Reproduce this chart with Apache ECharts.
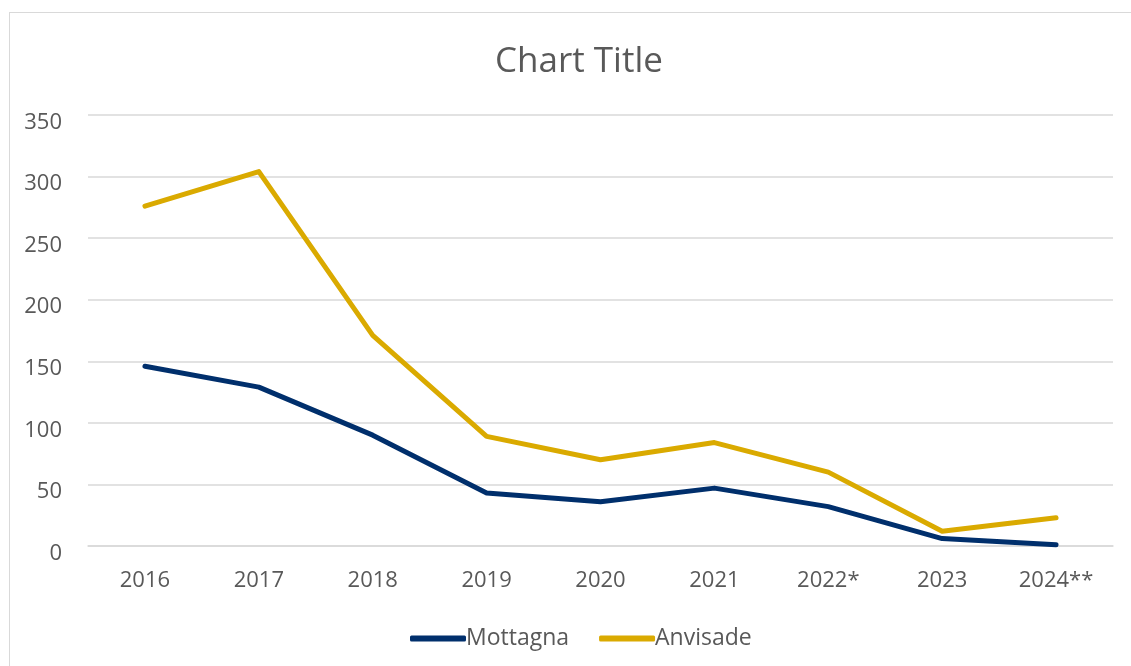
<!DOCTYPE html>
<html><head><meta charset="utf-8">
<script src="https://cdn.jsdelivr.net/npm/echarts@6/dist/echarts.min.js"></script>
<style>
html,body{margin:0;padding:0;background:#fff;overflow:hidden;}
#frame{position:absolute;left:9px;top:12px;width:1200px;height:700px;border:1.5px solid #d9d9d9;box-sizing:border-box;}
#chart{position:absolute;left:0;top:0;width:1131px;height:666px;}
</style></head>
<body>
<div id="frame"></div>
<div id="chart"></div>
<script>
const categories = ['2016','2017','2018','2019','2020','2021','2022*','2023','2024**'];
const mottagna = [146, 129, 90, 43, 36, 47, 32, 6, 1];
const anvisade = [276, 304, 171, 89, 70, 84, 60, 12, 23];
const seriesNames = ['Mottagna', 'Anvisade'];
const titleText = 'Chart Title';

const font = '"Open Sans", "Noto Sans", sans-serif';
const chart = echarts.init(document.getElementById('chart'), null, {renderer:'canvas'});
chart.setOption({
  backgroundColor: 'transparent',
  animation: false,
  title: {
    text: titleText, left: 490, top: 40,
    textStyle: {fontFamily: font, fontSize: 35, fontWeight: 'normal', color: '#595959'}
  },
  legend: {
    bottom: 11, left: 405, itemWidth: 56, itemHeight: 6, itemGap: 30,
    icon: 'roundRect',
    textStyle: {fontFamily: font, fontSize: 23, color: '#595959', padding: [0,0,0,-5]},
    data: seriesNames
  },
  grid: {left: 88, right: 18, top: 115, bottom: 120, containLabel: false},
  xAxis: {
    type: 'category', data: categories, boundaryGap: true,
    axisLine: {show: true, lineStyle: {color: '#d9d9d9', width: 1.5}},
    axisTick: {show: false},
    axisLabel: {fontFamily: font, fontSize: 22, color: '#595959', margin: 24}
  },
  yAxis: {
    type: 'value', min: 0, max: 350, interval: 50,
    axisLine: {show: false}, axisTick: {show: false},
    splitLine: {lineStyle: {color: '#d9d9d9', width: 1.5}},
    axisLabel: {fontFamily: font, fontSize: 22, color: '#595959', margin: 26,
      verticalAlign: 'top', lineHeight: 15}
  },
  series: [
    {name: seriesNames[0], type: 'line', data: mottagna, showSymbol: false, symbol: 'none',
     lineStyle: {color: '#002F6C', width: 5, cap: 'round', join: 'round'}, itemStyle: {color: '#002F6C'}},
    {name: seriesNames[1], type: 'line', data: anvisade, showSymbol: false, symbol: 'none',
     lineStyle: {color: '#DAAA00', width: 5, cap: 'round', join: 'round'}, itemStyle: {color: '#DAAA00'}}
  ]
});
</script>
</body></html>
